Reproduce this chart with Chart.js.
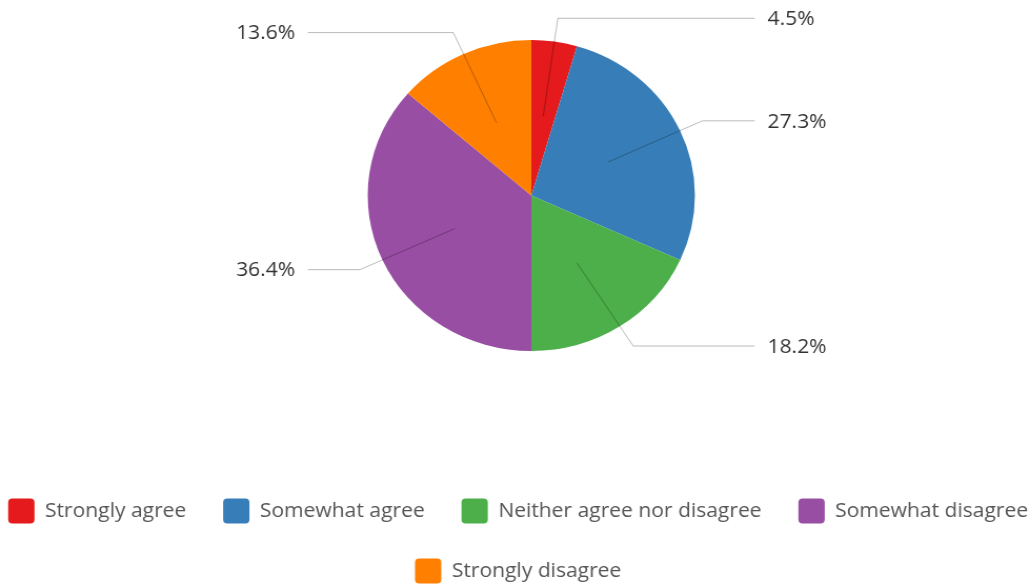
<!DOCTYPE html>
<html>
<head>
<meta charset="utf-8">
<script src="https://cdn.jsdelivr.net/npm/chart.js@4.4.1/dist/chart.umd.min.js"></script>
<style>
  html, body { margin: 0; padding: 0; background: #fff; }
</style>
</head>
<body>
<!-- le canvas est un peu étiré en largeur, comme l'image d'origine -->
<canvas id="chart" width="979" height="585" style="display:block; width:1030px; height:585px;"></canvas>
<script>
// Données
const categories = ["Strongly agree", "Somewhat agree", "Neither agree nor disagree", "Somewhat disagree", "Strongly disagree"];
const percentages = [4.5, 27.3, 18.2, 36.4, 13.6];
const colors = ["#e41a1c", "#377eb8", "#4daf4a", "#984ea3", "#ff7f00"];

// Étiquettes avec lignes de rappel
const leaderLabels = {
    id: "leaderLabels",
    afterDatasetsDraw(chart) {
        const ctx = chart.ctx;
        const meta = chart.getDatasetMeta(0);
        ctx.save();
        ctx.font = "20px 'Open Sans'";
        ctx.textBaseline = "middle";
        meta.data.forEach((arc, i) => {
            const { x, y, startAngle, endAngle, outerRadius } =
                arc.getProps(["x", "y", "startAngle", "endAngle", "outerRadius"], true);
            const mid = (startAngle + endAngle) / 2;
            const cos = Math.cos(mid);
            const sin = Math.sin(mid);
            const r1 = outerRadius * 0.515;
            const r2 = outerRadius + 23.5;
            const right = cos >= 0;
            const elbowY = y + sin * r2;
            const endX = x + (right ? 1 : -1) * (outerRadius + 57);

            ctx.strokeStyle = "rgba(0,0,0,0.27)";
            ctx.lineWidth = 1;
            ctx.beginPath();
            ctx.moveTo(x + cos * r1, y + sin * r1);
            ctx.lineTo(x + cos * r2, elbowY);
            ctx.lineTo(endX, elbowY);
            ctx.stroke();

            ctx.fillStyle = "#333";
            ctx.textAlign = right ? "left" : "right";
            ctx.fillText(percentages[i].toFixed(1) + "%", endX + (right ? 12 : -12), elbowY + 1);
        });
        ctx.restore();
    }
};

Chart.defaults.font.family = "'Open Sans', sans-serif";

new Chart(document.getElementById("chart"), {
    type: "pie",
    data: {
        labels: categories,
        datasets: [
            {
                data: percentages,
                backgroundColor: colors,
                borderWidth: 0,
                radius: 155.5,
            },
        ],
    },
    options: {
        responsive: false,
        devicePixelRatio: 1,
        animation: false,
        layout: {
            padding: { top: 0, bottom: -8.5, left: -47, right: -53 },
        },
        plugins: {
            // titre vide à gauche : décale juste le camembert
            title: {
                display: true,
                position: "left",
                text: "",
                fullSize: false,
                padding: 0,
                font: { size: 78, lineHeight: 1 },
            },
            legend: {
                position: "bottom",
                // titre vide : espace entre le camembert et la légende
                title: {
                    display: true,
                    text: "",
                    padding: 0,
                    font: { size: 72.5, lineHeight: 1 },
                },
                labels: {
                    font: { size: 20 },
                    color: "#555",
                    boxWidth: 25,
                    boxHeight: 25,
                    padding: 35,
                    useBorderRadius: true,
                    borderRadius: 4,
                },
            },
            tooltip: { enabled: false },
        },
    },
    plugins: [leaderLabels],
});
</script>
</body>
</html>
